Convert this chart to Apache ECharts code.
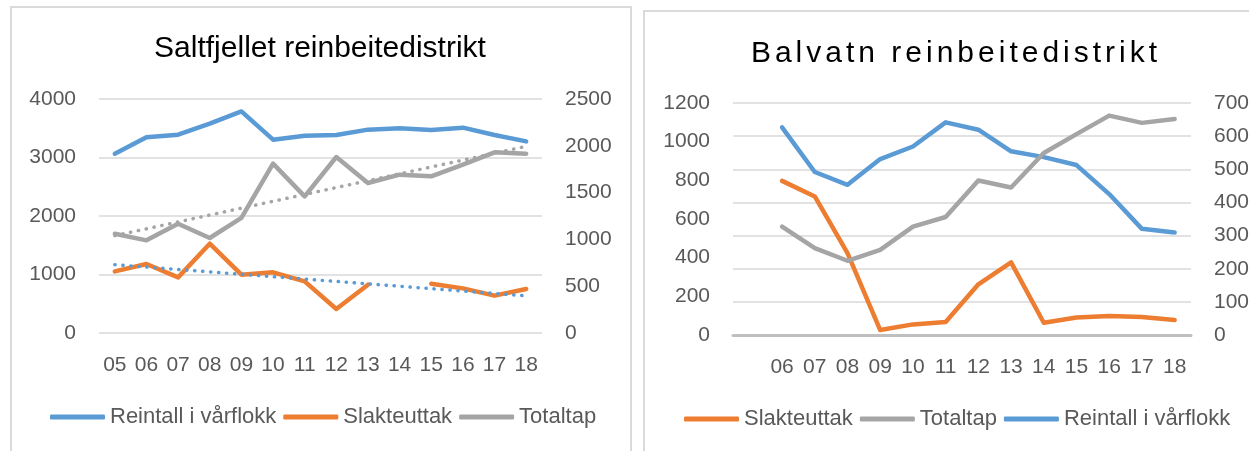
<!DOCTYPE html>
<html>
<head>
<meta charset="utf-8">
<script src="https://cdn.jsdelivr.net/npm/echarts@6/dist/echarts.min.js"></script>
<style>
  html, body { margin: 0; padding: 0; background: #fff; width: 1249px; height: 451px; overflow: hidden; position: relative; }
  .box { position: absolute; border: 2px solid #dadada; box-sizing: border-box; background: #fff; }
  #chart1 { left: 10px; top: 6px; width: 622px; height: 460px; }
  #chart2 { left: 643px; top: 10px; width: 680px; height: 460px; }
</style>
</head>
<body>
<div id="chart1" class="box"></div>
<div id="chart2" class="box"></div>
<script>
// Saltfjellet
const years1 = ['05', '06', '07', '08', '09', '10', '11', '12', '13', '14', '15', '16', '17', '18'];
const reintall1 = [3065, 3345, 3390, 3578, 3788, 3305, 3373, 3385, 3476, 3499, 3470, 3510, 3385, 3276];
const slakte1 = [658, 737, 594, 954, 623, 648, 551, 256, 516, null, 527, 477, 399, 470];
const totaltap1 = [1061, 990, 1168, 1015, 1229, 1809, 1460, 1880, 1603, 1692, 1674, 1798, 1930, 1916];
// trend lines, only the end points
const trendTap1 = [1040, null, null, null, null, null, null, null, null, null, null, null, null, 1994];
const trendSlakte1 = [730, null, null, null, null, null, null, null, null, null, null, null, null, 397];

// Balvatn (first slot is empty)
const years2 = ['', '06', '07', '08', '09', '10', '11', '12', '13', '14', '15', '16', '17', '18'];
const reintall2 = [null, 1074, 843, 777, 910, 975, 1100, 1062, 950, 920, 879, 729, 549, 530];
const slakte2 = [null, 465, 418, 247, 15, 32, 39, 153, 219, 37, 53, 57, 54, 45];
const totaltap2 = [null, 327, 262, 224, 257, 327, 356, 466, 445, 549, 606, 662, 640, 652];

const title1 = 'Saltfjellet reinbeitedistrikt';
const title2 = 'Balvatn reinbeitedistrikt';

const BLUE = '#5b9bd5', ORANGE = '#ed7d31', GRAY = '#a5a5a5';
const FONT = "'Liberation Sans', Arial, sans-serif";
const LABEL = '#595959';

// spaced-out letters for the second title
const origFillText = CanvasRenderingContext2D.prototype.fillText;
CanvasRenderingContext2D.prototype.fillText = function (text, x, y, w) {
  this.letterSpacing = text === title2 ? '4px' : '0px';
  return w === undefined ? origFillText.call(this, text, x, y) : origFillText.call(this, text, x, y, w);
};

function lineSeries(name, data, color, axis) {
  return {
    name: name, type: 'line', data: data, yAxisIndex: axis,
    symbol: 'none', connectNulls: false,
    lineStyle: { color: color, width: 4.5, cap: 'round', join: 'round' },
    itemStyle: { color: color }
  };
}

function trendSeries(data, color) {
  return {
    type: 'line', data: data, yAxisIndex: 1, symbol: 'none', connectNulls: true, silent: true,
    lineStyle: { color: color, width: 3.5, type: [0.3, 7.7], cap: 'round' }
  };
}

function valueAxis(max, interval, grid, margin) {
  return {
    type: 'value', min: 0, max: max, interval: interval,
    axisLine: { show: false }, axisTick: { show: false },
    axisLabel: { color: LABEL, fontSize: 21, fontFamily: FONT, margin: margin, formatter: v => String(v) },
    splitLine: { show: grid, lineStyle: { color: '#d9d9d9', width: 1.5 } }
  };
}

function legend(left, top, names) {
  return {
    left: left, top: top, data: names, icon: 'roundRect', padding: 0,
    itemWidth: 55, itemHeight: 5, itemGap: 7,
    textStyle: { color: LABEL, fontSize: 22, fontFamily: FONT }
  };
}

function titleText(x, y, text) {
  return {
    type: 'text', x: x, y: y,
    style: { text: text, fontSize: 30, fontFamily: FONT, fill: '#000', align: 'center', verticalAlign: 'middle' }
  };
}

const chart1 = echarts.init(document.getElementById('chart1'));
chart1.setOption({
  animation: false,
  graphic: [titleText(308, 41, title1)],
  legend: legend(38, 398, ['Reintall i vårflokk', 'Slakteuttak', 'Totaltap']),
  grid: { left: 87, right: 88, top: 91, height: 234 },
  xAxis: {
    type: 'category', data: years1, boundaryGap: true,
    axisLine: { show: false }, axisTick: { show: false },
    axisLabel: { color: LABEL, fontSize: 21, fontFamily: FONT, margin: 22 }
  },
  yAxis: [valueAxis(4000, 1000, true, 23), valueAxis(2500, 500, false, 23)],
  series: [
    lineSeries('Reintall i vårflokk', reintall1, BLUE, 0),
    lineSeries('Slakteuttak', slakte1, ORANGE, 1),
    lineSeries('Totaltap', totaltap1, GRAY, 1),
    trendSeries(trendTap1, GRAY),
    trendSeries(trendSlakte1, BLUE)
  ]
});

const chart2 = echarts.init(document.getElementById('chart2'));
chart2.setOption({
  animation: false,
  graphic: [titleText(311, 42, title2)],
  legend: legend(39, 396, ['Slakteuttak', 'Totaltap', 'Reintall i vårflokk']),
  grid: { left: 88, right: 130, top: 91, height: 232 },
  xAxis: {
    type: 'category', data: years2, boundaryGap: true,
    axisLine: { show: true, lineStyle: { color: '#bfbfbf', width: 3 } }, axisTick: { show: false },
    axisLabel: { color: LABEL, fontSize: 21, fontFamily: FONT, margin: 22 }
  },
  yAxis: [valueAxis(1200, 200, false, 23), valueAxis(700, 100, true, 23)],
  series: [
    lineSeries('Reintall i vårflokk', reintall2, BLUE, 0),
    lineSeries('Slakteuttak', slakte2, ORANGE, 1),
    lineSeries('Totaltap', totaltap2, GRAY, 1)
  ]
});
</script>
</body>
</html>
